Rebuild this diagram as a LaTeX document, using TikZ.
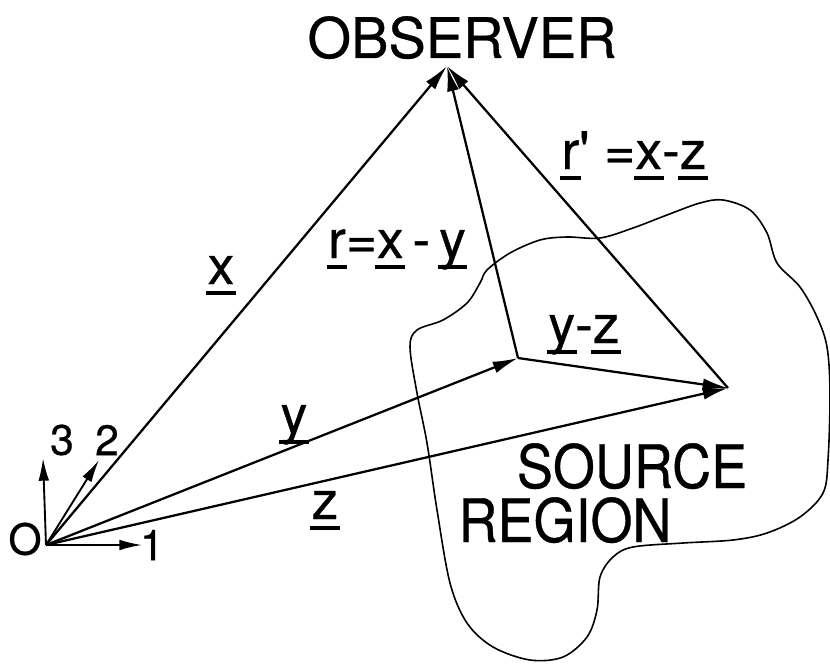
\documentclass[tikz,border=0pt]{standalone}
\usepackage{fontspec}
\setmainfont[FakeBold=0.6]{TeX Gyre Heros}
\usetikzlibrary{arrows.meta}
\newcommand\uln[1]{\setbox0\hbox{#1}\rlap{\kern-0.03em\rule[-0.2em]{\dimexpr\wd0+0.06em\relax}{0.06em}}\box0}
\tikzset{
  vec/.style={line width=1.7pt,-{Latex[length=19pt,width=9pt]}},
  axis/.style={line width=1.4pt,-{Latex[length=17pt,width=8pt]}},
  lab/.style={inner sep=0pt,anchor=base,font=\fontsize{40}{48}\selectfont},
  big/.style={inner sep=0pt,anchor=base,font=\fontsize{42}{50}\selectfont},
  small/.style={inner sep=0pt,font=\fontsize{32}{36}\selectfont},
  region/.style={line width=1.2pt}
}
\begin{document}
\begin{tikzpicture}[x=0.75pt,y=-0.75pt]
\useasboundingbox (0,0) rectangle (830,663);
% source region
\draw[region] plot[smooth cycle, tension=0.55] coordinates {
 (487,270) (510,253) (540,240) (567,237) (600,238) (633,228) (667,215)
 (700,203) (723,200) (750,210) (767,233) (777,263) (800,287) (817,317)
 (827,347) (830,393) (828,460) (823,493) (800,517) (767,533) (733,540)
 (683,543) (633,547) (613,557) (600,577) (597,610) (587,637) (563,657)
 (530,660) (493,647) (467,623) (450,583) (437,510) (427,443) (417,393)
 (410,347) (417,330) (443,320) (467,303) (480,283)};
% points
\coordinate (O) at (46,545);
\coordinate (P) at (447,66);
\coordinate (Y) at (518,358);
\coordinate (Z) at (728,388);
\coordinate (A1) at (142,545);
\coordinate (A2) at (99,460);
\coordinate (A3) at (43,458);
% vectors
\draw[vec] (O) -- (P);
\draw[vec] (O) -- (Y);
\draw[vec] (O) -- (Z);
\draw[vec] (Y) -- (Z);
\draw[vec] (Y) -- (P);
\draw[vec] (Z) -- (P);
% axes
\draw[axis] (O) -- (A1);
\draw[axis] (O) -- (A2);
\draw[axis] (O) -- (A3);
\node[small] (l0) at (25,539) {O};
\node[small] (l1) at (152,545) {1};
\node[small] (l2) at (107,440) {2};
\node[small] (l3) at (62,440) {3};
% labels
\node[big] (obs) at (462,58) {OBSERVER};
\node[lab] (xl) at (221,284) {\uln{x}};
\node[lab] (yl) at (294,433) {\uln{y}};
\node[lab] (zl) at (325,519) {\uln{z}};
\node[lab] (rl) at (397,258) {\uln{r}=\uln{x}\,-\,\uln{y}};
\node[lab] (rpl) at (634,169) {\uln{r}\textquotesingle\ =\uln{x}-\uln{z}};
\node[lab] (yzl) at (584,343) {\uln{y}-\uln{z}};
\node[big,xscale=0.9,font=\fontsize{45}{54}\selectfont] (src) at (632,488) {SOURCE};
\node[big,xscale=0.9,font=\fontsize{45}{54}\selectfont] (reg) at (565,542) {REGION};
\end{tikzpicture}
\end{document}
